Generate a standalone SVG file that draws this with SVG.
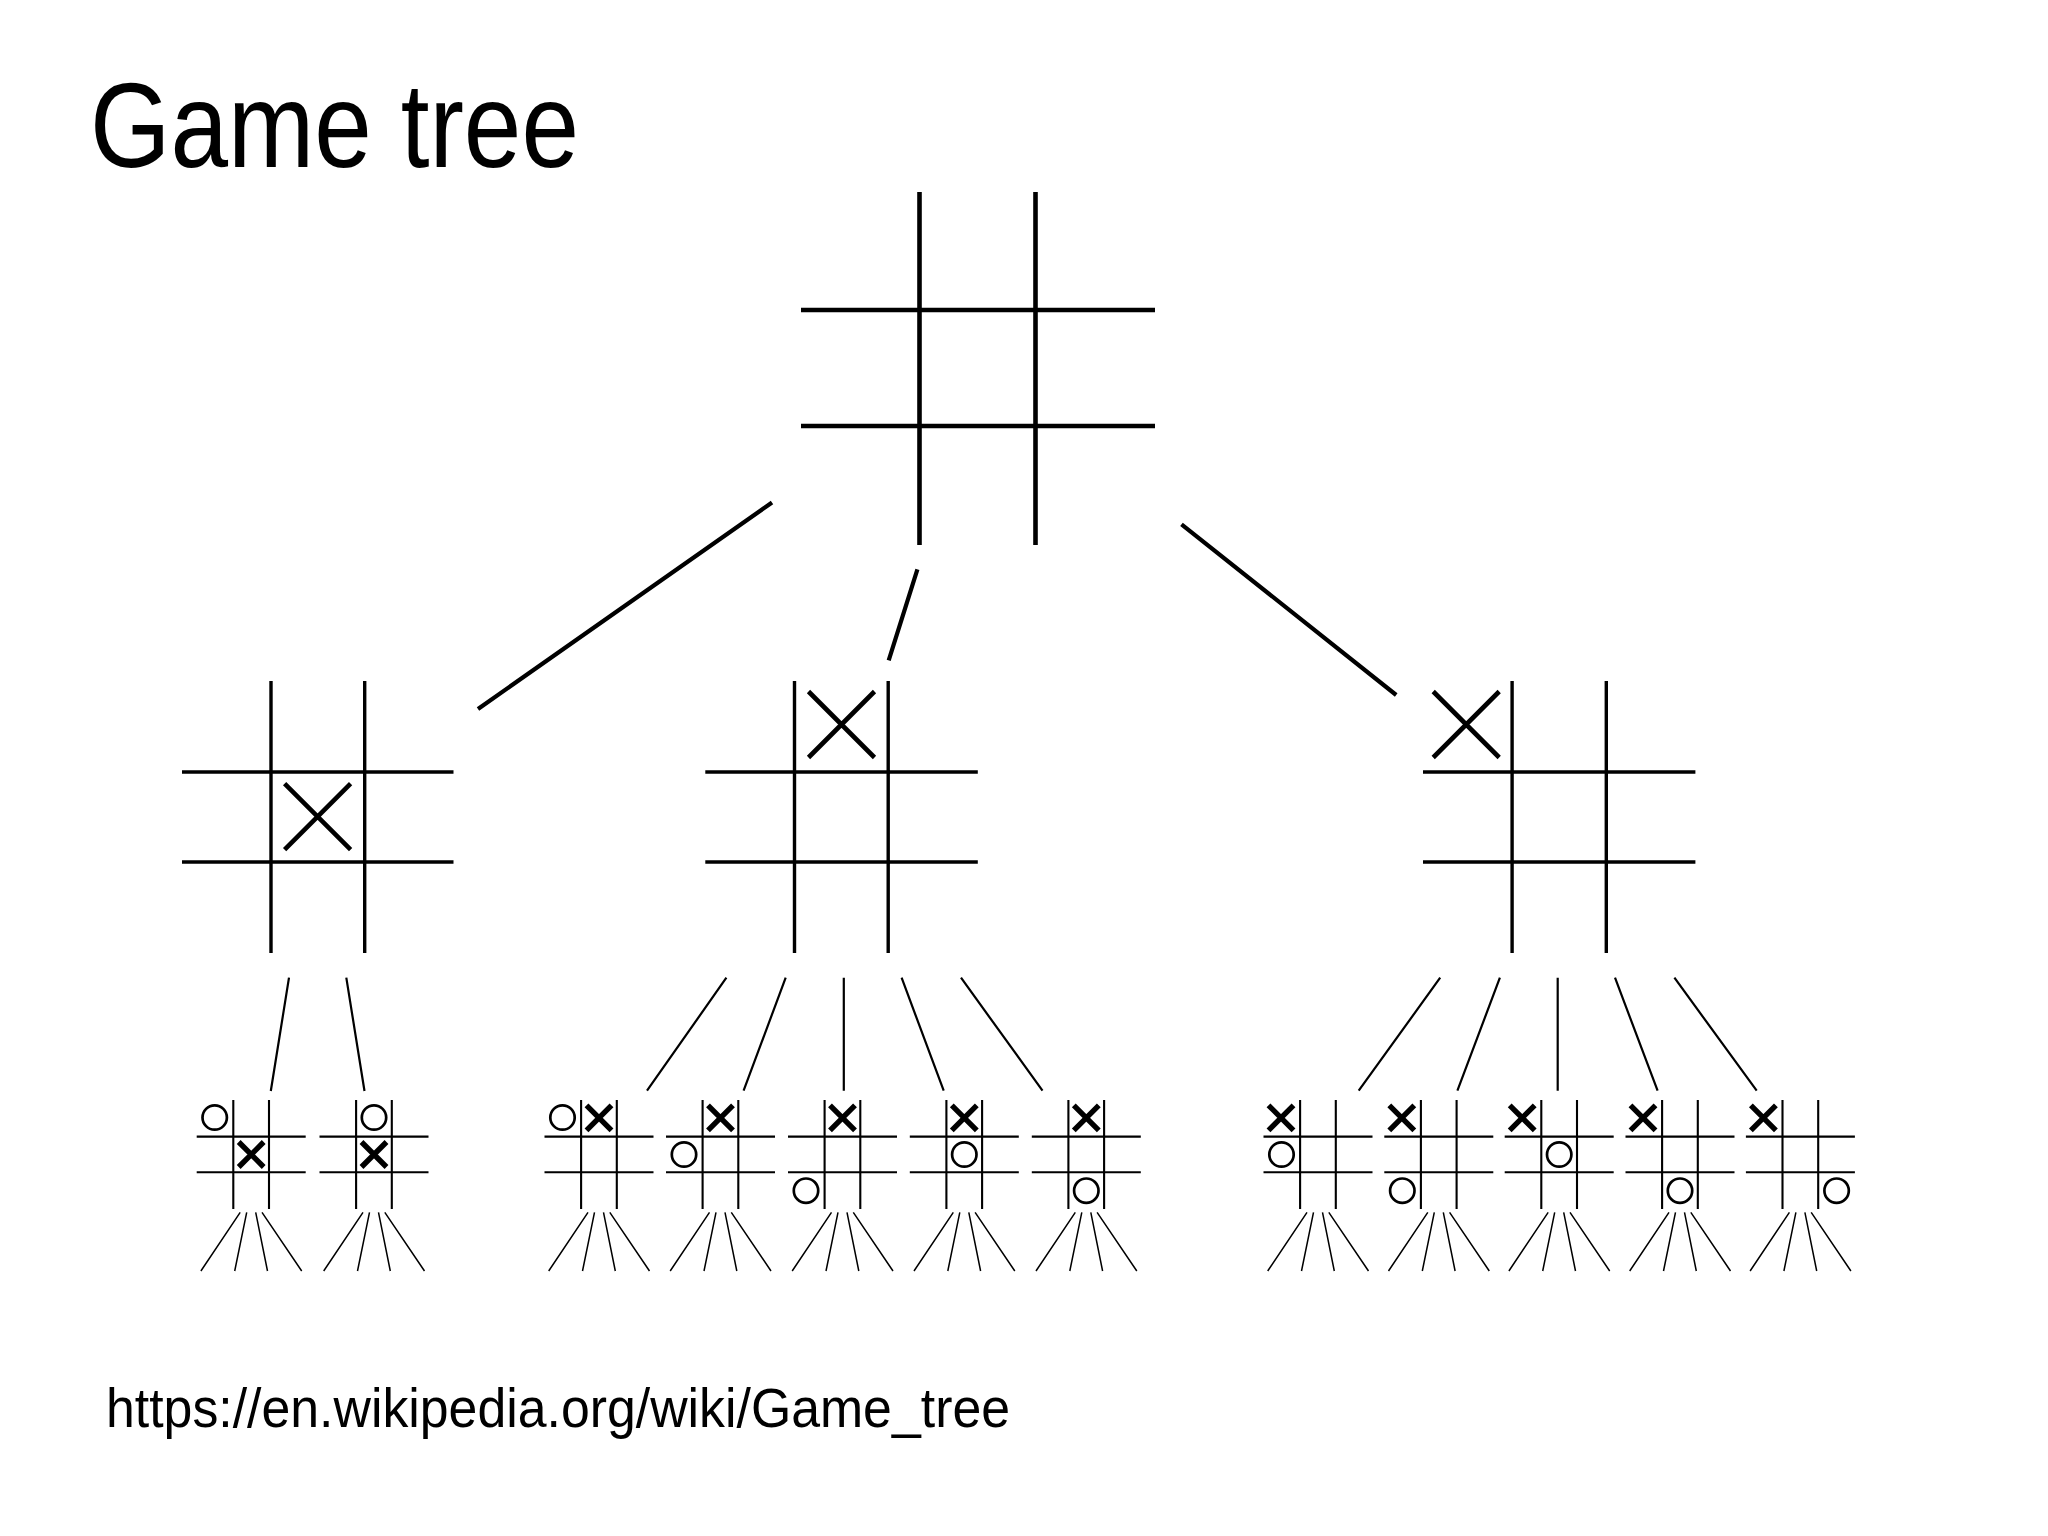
<svg xmlns="http://www.w3.org/2000/svg" xmlns:xlink="http://www.w3.org/1999/xlink" width="2048" height="1536" viewBox="0 0 2048 1536">
<style>
  .ln { fill: none; stroke: #000; stroke-linecap: butt; }
  .g1 { stroke-width: 4.6; }
  .g2 { stroke-width: 3.4; }
  .g3 { stroke-width: 2.1; }
  .x2 { stroke-width: 4.6; }
  .x3 { stroke-width: 5.4; }
  .o3 { stroke-width: 2.7; }
  .c1 { stroke-width: 4.2; }
  .c2 { stroke-width: 2.2; }
  .c3 { stroke-width: 1.5; }
  .title { font-family: "Liberation Sans", Arial, sans-serif; font-size: 120px; fill: #000; }
  .url { font-family: "Liberation Sans", Arial, sans-serif; font-size: 56px; fill: #000; }
</style>
<defs>
  <path id="sgrid" class="ln g3" d="M0,36.6 H109 M0,72.3 H109 M36.6,0 V109 M72.3,0 V109"/>
  <path id="fan" class="ln c3" d="M43.5,112.3 L4.2,171 M50,112.3 L38,171 M59,112.3 L70.8,171 M65.3,112.3 L105,171"/>
  <path id="xs" class="ln x3" d="M-12.5,-12.5 L12.5,12.5 M12.5,-12.5 L-12.5,12.5"/>
  <circle id="os" class="ln o3" cx="0" cy="0" r="12.2"/>
  <path id="xm" class="ln x2" d="M-33,-33 L33,33 M33,-33 L-33,33"/>
</defs>
<rect width="2048" height="1536" fill="#fff"/>

<text class="title" x="90" y="167" textLength="489" lengthAdjust="spacingAndGlyphs">Game tree</text>

<g id="root">
  <path class="ln g1" d="M801,310 H1155 M801,426 H1155 M919.5,192 V545 M1035.5,192 V545"/>
</g>

<g id="n-left">
  <path class="ln g2" d="M182,772 H453.5 M182,862 H453.5 M271,681 V953 M364.7,681 V953"/>
  <use href="#xm" xlink:href="#xm" x="317.6" y="816.6"/>
</g>
<g id="n-mid">
  <path class="ln g2" d="M705.3,772 H977.8 M705.3,862 H977.8 M794.5,681 V953 M888.2,681 V953"/>
  <use href="#xm" xlink:href="#xm" x="841.5" y="724.5"/>
</g>
<g id="n-right">
  <path class="ln g2" d="M1423,772 H1695.4 M1423,862 H1695.4 M1512.1,681 V953 M1606.3,681 V953"/>
  <use href="#xm" xlink:href="#xm" x="1466.2" y="724.5"/>
</g>

<g id="b1" transform="translate(196.7,1100)">
  <use href="#sgrid" xlink:href="#sgrid"/>
  <use href="#os" xlink:href="#os" x="18" y="17.5"/>
  <use href="#xs" xlink:href="#xs" x="54.5" y="54.5"/>
</g>
<g id="b2" transform="translate(319.5,1100)">
  <use href="#sgrid" xlink:href="#sgrid"/>
  <use href="#os" xlink:href="#os" x="54.5" y="17.5"/>
  <use href="#xs" xlink:href="#xs" x="54.5" y="54.5"/>
</g>
<g id="b3" transform="translate(544.5,1100)">
  <use href="#sgrid" xlink:href="#sgrid"/>
  <use href="#os" xlink:href="#os" x="18" y="17.5"/>
  <use href="#xs" xlink:href="#xs" x="54.5" y="17.8"/>
</g>
<g id="b4" transform="translate(666,1100)">
  <use href="#sgrid" xlink:href="#sgrid"/>
  <use href="#xs" xlink:href="#xs" x="54.5" y="17.8"/>
  <use href="#os" xlink:href="#os" x="18" y="54.5"/>
</g>
<g id="b5" transform="translate(788,1100)">
  <use href="#sgrid" xlink:href="#sgrid"/>
  <use href="#xs" xlink:href="#xs" x="54.5" y="17.8"/>
  <use href="#os" xlink:href="#os" x="18" y="90.7"/>
</g>
<g id="b6" transform="translate(909.8,1100)">
  <use href="#sgrid" xlink:href="#sgrid"/>
  <use href="#xs" xlink:href="#xs" x="54.5" y="17.8"/>
  <use href="#os" xlink:href="#os" x="54.5" y="54.5"/>
</g>
<g id="b7" transform="translate(1031.8,1100)">
  <use href="#sgrid" xlink:href="#sgrid"/>
  <use href="#xs" xlink:href="#xs" x="54.5" y="17.8"/>
  <use href="#os" xlink:href="#os" x="54.5" y="90.7"/>
</g>
<g id="b8" transform="translate(1263.5,1100)">
  <use href="#sgrid" xlink:href="#sgrid"/>
  <use href="#xs" xlink:href="#xs" x="17.5" y="17.8"/>
  <use href="#os" xlink:href="#os" x="18" y="54.5"/>
</g>
<g id="b9" transform="translate(1384.3,1100)">
  <use href="#sgrid" xlink:href="#sgrid"/>
  <use href="#xs" xlink:href="#xs" x="17.5" y="17.8"/>
  <use href="#os" xlink:href="#os" x="18" y="90.7"/>
</g>
<g id="b10" transform="translate(1504.7,1100)">
  <use href="#sgrid" xlink:href="#sgrid"/>
  <use href="#xs" xlink:href="#xs" x="17.5" y="17.8"/>
  <use href="#os" xlink:href="#os" x="54.5" y="54.5"/>
</g>
<g id="b11" transform="translate(1625.5,1100)">
  <use href="#sgrid" xlink:href="#sgrid"/>
  <use href="#xs" xlink:href="#xs" x="17.5" y="17.8"/>
  <use href="#os" xlink:href="#os" x="54.5" y="90.7"/>
</g>
<g id="b12" transform="translate(1745.9,1100)">
  <use href="#sgrid" xlink:href="#sgrid"/>
  <use href="#xs" xlink:href="#xs" x="17.5" y="17.8"/>
  <use href="#os" xlink:href="#os" x="90.7" y="90.7"/>
</g>

<g id="connectors">
  <path class="ln c1" d="M772,502.5 L478,709 M917.4,569.3 L888.7,660.3 M1181.5,524.3 L1396.2,695"/>
  <path class="ln c2" d="M289,977.7 L270.8,1091 M346.3,977.7 L364.5,1091"/>
  <path class="ln c2" d="M726.4,977.7 L647,1090.7 M785.7,977.7 L743.6,1090.7 M843.8,977.7 L843.8,1090.7 M901.6,977.7 L943.7,1090.7 M961,977.7 L1042.5,1090.7"/>
  <path class="ln c2" d="M1440.2,977.7 L1358.7,1090.7 M1499.9,977.7 L1457.4,1090.7 M1557.7,977.7 L1557.7,1090.7 M1615,977.7 L1657.6,1090.7 M1674.4,977.7 L1756.7,1090.7"/>
  <use href="#fan" xlink:href="#fan" x="196.7" y="1100"/>
  <use href="#fan" xlink:href="#fan" x="319.5" y="1100"/>
  <use href="#fan" xlink:href="#fan" x="544.5" y="1100"/>
  <use href="#fan" xlink:href="#fan" x="666" y="1100"/>
  <use href="#fan" xlink:href="#fan" x="788" y="1100"/>
  <use href="#fan" xlink:href="#fan" x="909.8" y="1100"/>
  <use href="#fan" xlink:href="#fan" x="1031.8" y="1100"/>
  <use href="#fan" xlink:href="#fan" x="1263.5" y="1100"/>
  <use href="#fan" xlink:href="#fan" x="1384.3" y="1100"/>
  <use href="#fan" xlink:href="#fan" x="1504.7" y="1100"/>
  <use href="#fan" xlink:href="#fan" x="1625.5" y="1100"/>
  <use href="#fan" xlink:href="#fan" x="1745.9" y="1100"/>
</g>

<text class="url" x="106" y="1427" textLength="904" lengthAdjust="spacingAndGlyphs">https://en.wikipedia.org/wiki/Game_tree</text>
</svg>
